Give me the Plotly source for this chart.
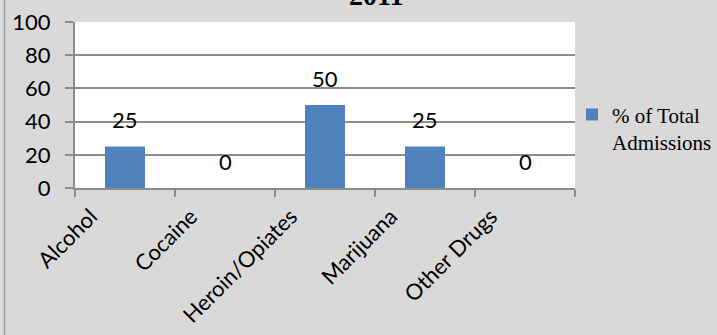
import plotly.graph_objects as go

categories = ["Alcohol", "Cocaine", "Heroin/Opiates", "Marijuana", "Other Drugs"]
values = [25, 0, 50, 25, 0]
series_name = "% of Total<br>Admissions"
title_text = "2011"
y_ticks = [0, 20, 40, 60, 80, 100]

BAR = "#4f81bd"
BG = "#d9d9d9"
GRID = "#8c8c8c"
SANS = "Lato, Carlito, Calibri, sans-serif"
SERIF = "Liberation Serif, Times New Roman, serif"

fig = go.Figure()
fig.add_trace(go.Bar(
    x=categories, y=values, name=series_name,
    marker=dict(color=BAR, line=dict(width=0)),
    showlegend=True,
))

annotations = []
for c, v in zip(categories, values):
    annotations.append(dict(
        x=c, y=v, xref="x", yref="y", text=str(v), showarrow=False,
        yanchor="middle", yshift=27,
        font=dict(family=SANS, size=22, color="black"),
    ))
annotations.append(dict(
    x=0.602, y=1, xref="paper", yref="paper", text="<b>" + title_text + "</b>",
    showarrow=False, yanchor="bottom", yshift=9,
    font=dict(family=SERIF, size=28, color="black"),
))

fig.update_layout(
    width=717, height=335,
    margin=dict(l=75, r=142, t=22, b=147, pad=0, autoexpand=False),
    paper_bgcolor=BG, plot_bgcolor="white",
    bargap=0.6,
    annotations=annotations,
    shapes=[dict(type="line", xref="paper", yref="paper",
                 x0=-0.141, x1=-0.141, y0=-1.2, y1=1.3,
                 line=dict(color="#a0a0a0", width=1.5))],
    legend=dict(
        x=0.994, y=0.36, xanchor="left", yanchor="middle",
        bgcolor="rgba(0,0,0,0)", borderwidth=0,
        font=dict(family=SERIF, size=21, color="black"),
        valign="top",
    ),
    xaxis=dict(
        type="category", tickson="boundaries", ticks="outside", ticklen=7,
        tickcolor=GRID, tickwidth=1.5, showline=True, linecolor=GRID, linewidth=2,
        tickangle=-45, tickfont=dict(family=SANS, size=22, color="black"),
        ticklabelshift=-34, ticklabelstandoff=5, automargin=False,
        showgrid=False,
    ),
    yaxis=dict(
        range=[0, 100], tickvals=y_ticks, ticks="outside", ticklen=8,
        tickcolor=GRID, tickwidth=1.5, showline=True, linecolor=GRID, linewidth=2,
        showgrid=True, gridcolor=GRID, gridwidth=1.5, zeroline=False,
        tickfont=dict(family=SANS, size=22, color="black"),
        ticklabelstandoff=10, automargin=False,
    ),
)

fig.write_html(
    "out.html",
    config={"displayModeBar": False},
    post_script="document.body.style.margin='0';document.body.style.overflow='hidden';",
)
